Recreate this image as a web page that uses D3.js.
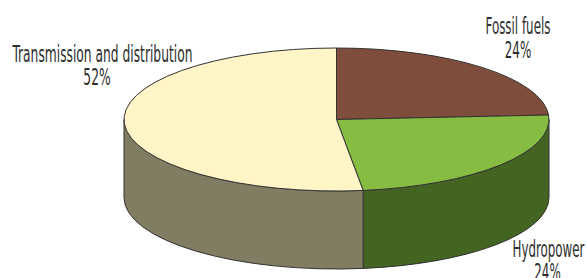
<!DOCTYPE html>
<html>
<head>
<meta charset="utf-8">
<script src="https://cdn.jsdelivr.net/npm/d3@7"></script>
<style>
  html, body { margin: 0; padding: 0; background: #fff; }
  svg { display: block; }
</style>
</head>
<body>
<svg id="chart" width="587" height="278"></svg>
<script>
// ---- data ----
const categories = ["Fossil fuels", "Hydropower", "Transmission and distribution"];
const values = [24, 24, 52];
const valueLabels = ["24%", "24%", "52%"];
const topColors = ["#7f4d3c", "#86bc42", "#fff5c6"];
const sideColors = ["#4f2e24", "#446422", "#817d62"];

// ---- layout ----
const W = 587, H = 278;
const cx = 336.5, cy = 119.5, rx = 212.5, ry = 71.5, depth = 78;

const svg = d3.select("#chart");

const pie = d3.pie().sort(null).value(d => d).startAngle(0).endAngle(2 * Math.PI);
const arcs = pie(values).map((a, i) => ({ ...a, i }));

const pt = (t, dy = 0) => [cx + rx * Math.sin(t), cy - ry * Math.cos(t) + dy];

// side walls (front half only: angles between PI/2 and 3PI/2)
const sides = svg.append("g");
arcs.forEach(a => {
  const s = Math.max(a.startAngle, Math.PI / 2);
  const e = Math.min(a.endAngle, 3 * Math.PI / 2);
  if (e <= s) return;
  const p0 = pt(s), p1 = pt(e), q1 = pt(e, depth), q0 = pt(s, depth);
  const large = (e - s) > Math.PI ? 1 : 0;
  const d = `M${p0}A${rx},${ry} 0 ${large} 1 ${p1}L${q1}A${rx},${ry} 0 ${large} 0 ${q0}Z`;
  sides.append("path")
    .attr("d", d)
    .attr("fill", sideColors[a.i])
    .attr("stroke", "#333")
    .attr("stroke-width", 1)
    .attr("stroke-linejoin", "round");
});

// top faces
const tops = svg.append("g");
arcs.forEach(a => {
  const p0 = pt(a.startAngle), p1 = pt(a.endAngle);
  const large = (a.endAngle - a.startAngle) > Math.PI ? 1 : 0;
  const d = `M${cx},${cy}L${p0}A${rx},${ry} 0 ${large} 1 ${p1}Z`;
  tops.append("path")
    .attr("d", d)
    .attr("fill", topColors[a.i])
    .attr("stroke", "#333")
    .attr("stroke-width", 1)
    .attr("stroke-linejoin", "round");
});

// labels: one two-line text per slice, condensed horizontally via a scale transform
const labelPos = [
  { x1: 518, y1: 34, w1: 65, x2: 518, y2: 58 },
  { x1: 548.5, y1: 256.5, w1: 72, x2: 547.5, y2: 280.5 },
  { x1: 102.5, y1: 62, w1: 180, x2: 97, y2: 85 }
];
const lg = svg.append("g")
  .attr("font-family", "'DejaVu Sans Condensed', 'DejaVu Sans', sans-serif")
  .attr("font-size", 22.5)
  .attr("fill", "#2e2e2e")
  .attr("text-anchor", "middle");

categories.forEach((c, i) => {
  const p = labelPos[i];
  const t = lg.append("text");
  const s1 = t.append("tspan").attr("x", 0).attr("y", 0).text(c);
  const natural = s1.node().getComputedTextLength();
  const sx = p.w1 / natural;
  t.append("tspan")
    .attr("x", (p.x2 - p.x1) / sx)
    .attr("y", p.y2 - p.y1)
    .text(valueLabels[i]);
  t.attr("transform", `translate(${p.x1},${p.y1}) scale(${sx},1)`);
});
</script>
</body>
</html>
